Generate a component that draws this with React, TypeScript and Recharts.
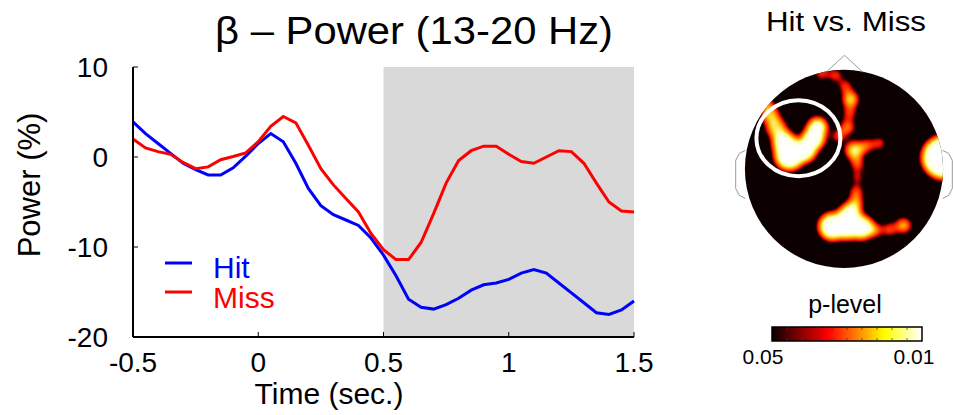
import React from 'react';
import { LineChart, Line, XAxis, YAxis, ReferenceArea, Legend, ComposedChart, Scatter } from 'recharts';

const FONT = '"Liberation Sans", Arial, Helvetica, sans-serif';

// beta power time courses (% change), sampled every 50 ms
const TIME = [
  -0.5, -0.45, -0.4, -0.35, -0.3, -0.25, -0.2, -0.15, -0.1, -0.05, 0, 0.05, 0.1, 0.15, 0.2, 0.25,
  0.3, 0.35, 0.4, 0.45, 0.5, 0.55, 0.6, 0.65, 0.7, 0.75, 0.8, 0.85, 0.9, 0.95, 1, 1.05, 1.1, 1.15,
  1.2, 1.25, 1.3, 1.35, 1.4, 1.45, 1.5,
];
const HIT = [
  3.9, 2.6, 1.5, 0.4, -0.7, -1.4, -2.0, -2.0, -1.2, 0.1, 1.5, 2.6, 1.7, -0.7, -3.5, -5.4, -6.4,
  -7.0, -7.6, -9.0, -10.9, -13.2, -15.8, -16.7, -16.9, -16.4, -15.7, -14.8, -14.2, -14.0, -13.6,
  -12.9, -12.5, -12.9, -14.0, -15.1, -16.2, -17.3, -17.5, -17.0, -16.0,
];
const MISS = [
  2.0, 1.0, 0.6, 0.3, -0.6, -1.3, -1.1, -0.3, 0.05, 0.45, 1.7, 3.4, 4.5, 3.8, 1.3, -1.3, -3.1,
  -4.6, -6.1, -8.5, -10.3, -11.4, -11.4, -9.5, -6.3, -2.9, -0.4, 0.7, 1.2, 1.2, 0.3, -0.5, -0.7,
  0.0, 0.7, 0.6, -0.7, -2.9, -5.0, -6.0, -6.1,
];
const X_TICKS = [-0.5, 0, 0.5, 1, 1.5];
const Y_TICKS = [-20, -10, 0, 10];
const WINDOW = [0.5, 1.5];

// topography: significant clusters in head units (scalp edge = 1); w = strength 0..1
const BLOB_U = [
  -0.551, -0.601, -0.399, -0.308, -0.268, -0.682, -0.742, -0.783,
  -0.227, -0.086, 0.015, 0.066, 0.056, 0.035, -0.056, 0.106, 0.237, 0.359, 0.136, 0.136, 0.126, 0.116,
  0.056, -0.116, 0.035, 0.177, 0.318, 0.46, 0.601,
  1.005,
];
const BLOB_V = [
  0.136, 0.258, 0.187, 0.308, 0.419, 0.409, 0.54, 0.652,
  0.965, 0.944, 0.833, 0.702, 0.561, 0.419, 0.328, 0.187, 0.237, 0.258, 0.045, -0.086, -0.227, -0.348,
  -0.46, -0.581, -0.571, -0.591, -0.621, -0.611, -0.571,
  0.116,
];
const BLOB_R = [
  0.15, 0.12, 0.12, 0.115, 0.1, 0.1, 0.09, 0.07,
  0.061, 0.061, 0.061, 0.076, 0.061, 0.071, 0.061, 0.09, 0.061, 0.051, 0.061, 0.051, 0.061, 0.071,
  0.11, 0.14, 0.14, 0.12, 0.061, 0.061, 0.071,
  0.22,
];
const BLOB_W = [
  1, 1, 1, 1, 1, 0.75, 0.7, 0.65,
  0.6, 0.6, 0.6, 0.85, 0.6, 0.65, 0.6, 0.85, 0.65, 0.7, 0.65, 0.6, 0.65, 0.75,
  1, 1, 1, 1, 0.7, 0.65, 0.8,
  1,
];
const SCALP = [{ u: 0, v: 0 }];
const ROI = [{ u: -0.46, v: 0.31 }];
const NOSE_U = [-0.18, 0.005, 0.19];
const NOSE_V = [0.975, 1.146, 0.975];
const EAR_U = [-0.995, -1.056, -1.093, -1.093, -1.056, -0.995];
const EAR_V = [0.187, 0.157, 0.086, -0.197, -0.268, -0.298];

const rows = TIME.map((t, i) => ({ t, hit: HIT[i], miss: MISS[i] }));
const blobs = BLOB_U.map((u, i) => ({ u, v: BLOB_V[i], r: BLOB_R[i], w: BLOB_W[i] }));
const nose = NOSE_U.map((u, i) => ({ u, v: NOSE_V[i] }));
const earL = EAR_U.map((u, i) => ({ u, v: EAR_V[i] }));
const earR = EAR_U.map((u, i) => ({ u: -u, v: EAR_V[i] }));

const U_DOMAIN = [-1.1, 1.1];
const V_DOMAIN = [-1.1, 1.3];
const HEAD_W = 218;
const HEAD_H = 238;
const HEAD_PX = HEAD_W / (U_DOMAIN[1] - U_DOMAIN[0]);

const scalpShape = (p: any) => (
  <g>
    <defs>
      <clipPath id="scalp">
        <circle cx={p.cx} cy={p.cy} r={HEAD_PX} />
      </clipPath>
    </defs>
    <circle cx={p.cx} cy={p.cy} r={HEAD_PX} fill="#0d0000" />
  </g>
);
const blobShape = (p: any) => (
  <circle cx={p.cx} cy={p.cy} r={p.payload.r * HEAD_PX} fill="#fff" fillOpacity={p.payload.w} />
);
const roiShape = (p: any) => (
  <ellipse cx={p.cx} cy={p.cy} rx={42} ry={38} fill="none" stroke="#fff" strokeWidth={4} />
);
const noMarker = () => <g />;

const renderLegend = (props: any) => (
  <svg width={150} height={70} style={{ display: 'block' }}>
    {(props.payload || []).map((e: any, i: number) => (
      <g key={e.value}>
        <line x1={5} x2={32} y1={17 + i * 29} y2={17 + i * 29} stroke={e.color} strokeWidth={3} />
        <text x={53} y={32 + i * 30} fill={e.color} fontSize={30} fontFamily={FONT}>
          {e.value}
        </text>
      </g>
    ))}
  </svg>
);

function ColorBar() {
  const ticks = [1, 2, 3, 4, 5, 6, 7, 8, 9];
  return (
    <g>
      <defs>
        <linearGradient id="hot" x1="0" x2="1" y1="0" y2="0">
          <stop offset="0" stopColor="#0b0000" />
          <stop offset="0.375" stopColor="#ff0000" />
          <stop offset="0.75" stopColor="#ffff00" />
          <stop offset="1" stopColor="#ffffff" />
        </linearGradient>
      </defs>
      <rect x={772} y={327} width={150} height={14} fill="url(#hot)" stroke="#000" strokeWidth={1.5} />
      {ticks.map((k) => (
        <g key={k}>
          <line x1={772 + k * 15} x2={772 + k * 15} y1={327} y2={330} stroke="#333" strokeWidth={0.7} />
          <line x1={772 + k * 15} x2={772 + k * 15} y1={338} y2={341} stroke="#333" strokeWidth={0.7} />
        </g>
      ))}
      <text x={845} y={313} textAnchor="middle" fontSize={25}>p-level</text>
      <text x={763} y={364} textAnchor="middle" fontSize={21}>0.05</text>
      <text x={914} y={364} textAnchor="middle" fontSize={21}>0.01</text>
    </g>
  );
}

export default function App() {
  return (
    <div style={{ position: 'absolute', left: 0, top: 0, width: 953, height: 415, background: '#fff', fontFamily: FONT }}>
      <style>{'.heat { filter: url(#hotmap); clip-path: url(#scalp); }'}</style>
      <div style={{ position: 'absolute', left: 0, top: 0 }}>
        <LineChart width={660} height={415} data={rows} margin={{ top: 67, right: 26, bottom: 38, left: 33 }}>
          <ReferenceArea x1={WINDOW[0]} x2={WINDOW[1]} y1={-20} y2={10} fill="#d9d9d9" fillOpacity={1} stroke="none" />
          <XAxis
            dataKey="t"
            type="number"
            domain={[-0.5, 1.5]}
            ticks={X_TICKS}
            height={40}
            axisLine={{ stroke: '#000', strokeWidth: 2 }}
            tickLine={{ stroke: '#000', strokeWidth: 1 }}
            tickSize={-5}
            tickMargin={20}
            tick={{ fill: '#000', fontSize: 28, fontFamily: FONT }}
          />
          <YAxis
            type="number"
            domain={[-20, 10]}
            ticks={Y_TICKS}
            width={100}
            axisLine={{ stroke: '#000', strokeWidth: 2 }}
            tickLine={{ stroke: '#000', strokeWidth: 1 }}
            tickSize={-5}
            tickMargin={30}
            tick={{ fill: '#000', fontSize: 28, fontFamily: FONT }}
          />
          <Legend
            verticalAlign="middle"
            align="center"
            content={renderLegend}
            wrapperStyle={{ left: 160, top: 246, width: 150, height: 70 }}
          />
          <Line type="linear" dataKey="hit" name="Hit" stroke="#0000ff" strokeWidth={3} dot={false} isAnimationActive={false} />
          <Line type="linear" dataKey="miss" name="Miss" stroke="#ff0000" strokeWidth={3} dot={false} isAnimationActive={false} />
        </LineChart>
      </div>

      <div style={{ position: 'absolute', left: 735, top: 40 }}>
        <ComposedChart width={HEAD_W} height={HEAD_H} margin={{ top: 0, right: 0, bottom: 0, left: 0 }}>
          <XAxis dataKey="u" type="number" domain={U_DOMAIN} hide />
          <YAxis dataKey="v" type="number" domain={V_DOMAIN} hide />
          <Scatter data={SCALP} shape={scalpShape} isAnimationActive={false} />
          <Scatter data={blobs} shape={blobShape} className="heat" isAnimationActive={false} />
          <Scatter data={ROI} shape={roiShape} isAnimationActive={false} />
          <Scatter data={nose} shape={noMarker} line={{ stroke: '#999', strokeWidth: 1 }} isAnimationActive={false} />
          <Scatter data={earL} shape={noMarker} line={{ stroke: '#999', strokeWidth: 1 }} isAnimationActive={false} />
          <Scatter data={earR} shape={noMarker} line={{ stroke: '#999', strokeWidth: 1 }} isAnimationActive={false} />
        </ComposedChart>
      </div>

      <svg width={953} height={415} style={{ position: 'absolute', left: 0, top: 0, pointerEvents: 'none' }} fontFamily={FONT} fill="#000">
        <defs>
          <filter id="hotmap" x="-20%" y="-20%" width="140%" height="140%" colorInterpolationFilters="sRGB">
            <feGaussianBlur stdDeviation="4" />
            <feColorMatrix type="matrix" values="0 0 0 1 0  0 0 0 1 0  0 0 0 1 0  0 0 0 1 0" />
            <feComponentTransfer>
              <feFuncR type="table" tableValues="0 0 0.3 0.75 1 1 1 1 1 1 1" />
              <feFuncG type="table" tableValues="0 0 0 0 0.15 0.4 0.65 0.85 1 1 1" />
              <feFuncB type="table" tableValues="0 0 0 0 0 0 0 0.2 0.6 0.9 1" />
              <feFuncA type="table" tableValues="0 0 0.4 1 1 1 1 1 1 1 1" />
            </feComponentTransfer>
          </filter>
        </defs>
        <text x={414} y={44} textAnchor="middle" fontSize={38} textLength={398} lengthAdjust="spacingAndGlyphs">
          β – Power (13-20 Hz)
        </text>
        <text x={329} y={404} textAnchor="middle" fontSize={30}>Time (sec.)</text>
        <text x={0} y={0} textAnchor="middle" fontSize={31} transform="translate(40 185) rotate(-90)">Power (%)</text>
        <text x={846} y={31} textAnchor="middle" fontSize={27} textLength={160} lengthAdjust="spacingAndGlyphs">
          Hit vs. Miss
        </text>
        <ColorBar />
      </svg>
    </div>
  );
}
